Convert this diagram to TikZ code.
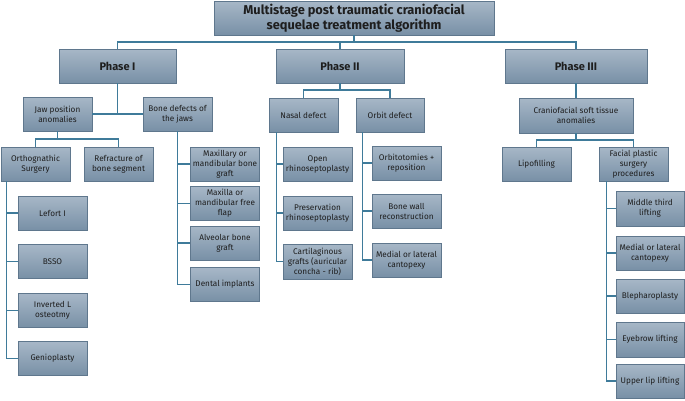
\documentclass[tikz,border=0pt]{standalone}
\usepackage{fontspec}
\setmainfont{Fira Sans}
\usetikzlibrary{positioning}
\definecolor{boxtop}{HTML}{A7B7C7}
\definecolor{boxbot}{HTML}{7890A6}
\definecolor{boxline}{HTML}{5F778D}
\definecolor{wire}{HTML}{3F7B9A}
\definecolor{ink}{HTML}{1E1E1E}
\tikzset{
  box/.style={draw=boxline, line width=0.6pt, top color=boxtop, bottom color=boxbot,
    align=center, text=ink, inner sep=1pt, font=\fontsize{8.2}{10}\selectfont,
    minimum width=69pt, minimum height=34pt},
  phasebox/.style={box, font=\fontsize{11}{13}\selectfont\bfseries, minimum height=34pt},
  titlebox/.style={box, font=\fontsize{12.8}{15.5}\selectfont\bfseries, minimum width=280pt, minimum height=34pt},
  wirel/.style={draw=wire, line width=1.2pt}
}
\begin{document}
\begin{tikzpicture}[x=1pt,y=-1pt]
\useasboundingbox (0,0) rectangle (685,400);
% top
\node[titlebox] (title) at (354,18) {Multistage post traumatic craniofacial\\sequelae treatment algorithm};
\node[phasebox, minimum width=117pt] (p1) at (117.5,66) {Phase I};
\node[phasebox, minimum width=128pt] (p2) at (340,66) {Phase II};
\node[phasebox, minimum width=142pt] (p3) at (576,66) {Phase III};
\coordinate (bus) at (0,42);
% phase I
\node[box] (jaw) at (57.5,114) {Jaw position\\anomalies};
\node[box] (bone) at (177.5,114) {Bone defects of\\the jaws};
\node[box] (ortho) at (35.5,164) {Orthognathic\\Surgery};
\node[box] (refr) at (118.5,164) {Refracture of\\bone segment};
\coordinate (jbus) at (0,139);
\node[box] (lefort) at (52.5,213) {Lefort I};
\node[box] (bsso) at (52.5,261.5) {BSSO};
\node[box] (invl) at (52.5,310.5) {Inverted L\\osteotmy};
\node[box] (genio) at (52.5,358.5) {Genioplasty};
\node[box] (maxg) at (225,164) {Maxillary or\\mandibular bone\\graft};
\node[box] (maxf) at (225,203.5) {Maxilla or\\mandibular free\\flap};
\node[box] (alv) at (225,243) {Alveolar bone\\graft};
\node[box] (dent) at (225,284.5) {Dental implants};
% phase II
\node[box] (nasal) at (303.5,115) {Nasal defect};
\node[box, minimum width=68pt] (orbit) at (390,115) {Orbit defect};
\coordinate (nbus) at (0,90);
\node[box] (open) at (317.5,164) {Open\\rhinoseptoplasty};
\node[box] (pres) at (317.5,213) {Preservation\\rhinoseptoplasty};
\node[box, minimum height=35pt] (cart) at (317.5,261.5) {Cartilaginous\\grafts (auricular\\concha - rib)};
\node[box] (orbt) at (406.5,163) {Orbitotomies +\\reposition};
\node[box] (bwall) at (406.5,211) {Bone wall\\reconstruction};
\node[box] (medc) at (406.5,260) {Medial or lateral\\cantopexy};
% phase III
\node[box, minimum width=114pt, minimum height=35pt] (cranio) at (576,115.5) {Craniofacial soft tissue\\anomalies};
\coordinate (cbus) at (0,140);
\node[box] (lipo) at (536.5,164) {Lipofilling};
\node[box] (facial) at (633.5,164) {Facial plastic\\surgery\\procedures};
\node[box, minimum width=68pt, minimum height=35pt] (mid3) at (650,208.5) {Middle third\\lifting};
\node[box, minimum width=68pt] (medl) at (650,253) {Medial or lateral\\cantopexy};
\node[box, minimum width=68pt] (bleph) at (650,296) {Blepharoplasty};
\node[box, minimum width=68pt, minimum height=35pt] (eyeb) at (650,339.5) {Eyebrow lifting};
\node[box, minimum width=68pt] (upper) at (650,381) {Upper lip lifting};
% connectors
\draw[wirel] (title.south) -- (title.south |- bus);
\draw[wirel] (p1.north) -- (p1.north |- bus) -- (p3.north |- bus) -- (p3.north);
\draw[wirel] (p2.north) -- (p2.north |- bus);
\draw[wirel] (p1.south) -- (p1.south |- jaw.east);
\draw[wirel] (jaw.east) -- (bone.west);
\draw[wirel] (jaw.south) -- (jaw.south |- jbus);
\draw[wirel] (ortho.north) -- (ortho.north |- jbus) -- (refr.north |- jbus) -- (refr.north);
\draw[wirel] ([xshift=6pt]ortho.south west) |- (genio.west);
\foreach \n in {lefort,bsso,invl} \draw[wirel] ([xshift=6pt]ortho.south west |- \n.west) -- (\n.west);
\draw[wirel] (bone.south) |- (dent.west);
\foreach \n in {maxg,maxf,alv} \draw[wirel] (bone.south |- \n.west) -- (\n.west);
\draw[wirel] (p2.south) -- (p2.south |- nbus);
\draw[wirel] (nasal.north) -- (nasal.north |- nbus) -- (orbit.north |- nbus) -- (orbit.north);
\draw[wirel] ([xshift=8pt]nasal.south west) |- (cart.west);
\foreach \n in {open,pres} \draw[wirel] ([xshift=8pt]nasal.south west |- \n.west) -- (\n.west);
\draw[wirel] ([xshift=7pt]orbit.south west) |- (medc.west);
\foreach \n in {orbt,bwall} \draw[wirel] ([xshift=7pt]orbit.south west |- \n.west) -- (\n.west);
\draw[wirel] (p3.south) -- (cranio.north);
\draw[wirel] (cranio.south) -- (cranio.south |- cbus);
\draw[wirel] (lipo.north) -- (lipo.north |- cbus) -- (facial.north |- cbus) -- (facial.north);
\draw[wirel] ([xshift=8pt]facial.south west) |- (upper.west);
\foreach \n in {mid3,medl,bleph,eyeb} \draw[wirel] ([xshift=8pt]facial.south west |- \n.west) -- (\n.west);
\end{tikzpicture}
\end{document}
